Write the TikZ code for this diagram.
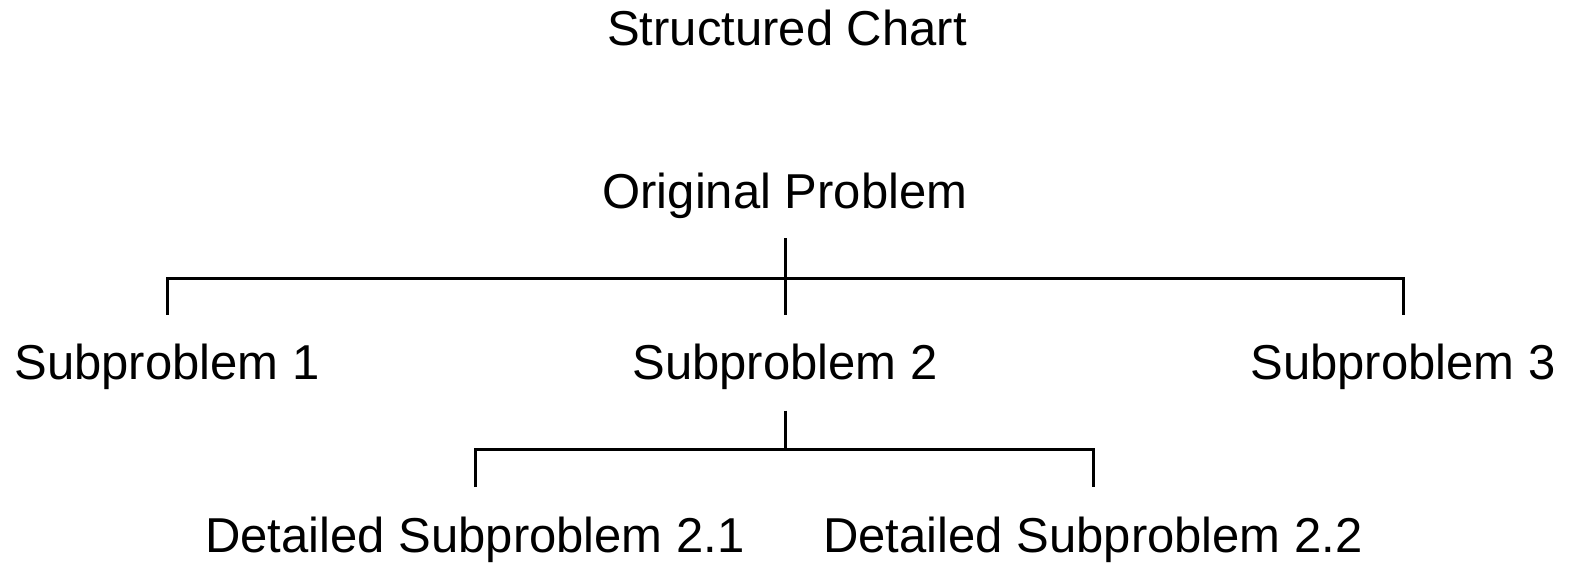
\documentclass[tikz,border=0pt]{standalone}
\usepackage{fontspec}
\setmainfont{Liberation Sans}
\begin{document}
\begin{tikzpicture}[x=1pt,y=1pt,
  lbl/.style={anchor=base,inner sep=0pt,font=\fontsize{49}{58}\selectfont},
  conn/.style={line width=3pt,line cap=butt,line join=miter}]
\useasboundingbox (0,0) rectangle (1578,564);
\node[lbl] (title) at (787,518.2) {Structured Chart};
\node[lbl] (op) at (785,355.2) {Original Problem};
\node[lbl] (s1) at (167,184.6) {Subproblem 1};
\node[lbl] (s2) at (785,184.6) {Subproblem 2};
\node[lbl] (s3) at (1403,184.6) {Subproblem 3};
\node[lbl] (d1) at (475,11.5) {Detailed Subproblem 2.1};
\node[lbl] (d2) at (1093,11.5) {Detailed Subproblem 2.2};
% first level
\draw[conn] ([yshift=-29.7pt]op.base) -- ([yshift=64.4pt]s2.base);
\draw[conn] ([yshift=64.4pt]s1.base) |- ([yshift=101.1pt]s3.base) -- ([yshift=64.4pt]s3.base);
% second level
\draw[conn] ([yshift=-31.2pt]s2.base) -- ([yshift=103.3pt]d1.base -| s2.base);
\draw[conn] ([yshift=65.4pt]d1.base) |- ([yshift=103.3pt]d2.base) -- ([yshift=65.4pt]d2.base);
\end{tikzpicture}
\end{document}
